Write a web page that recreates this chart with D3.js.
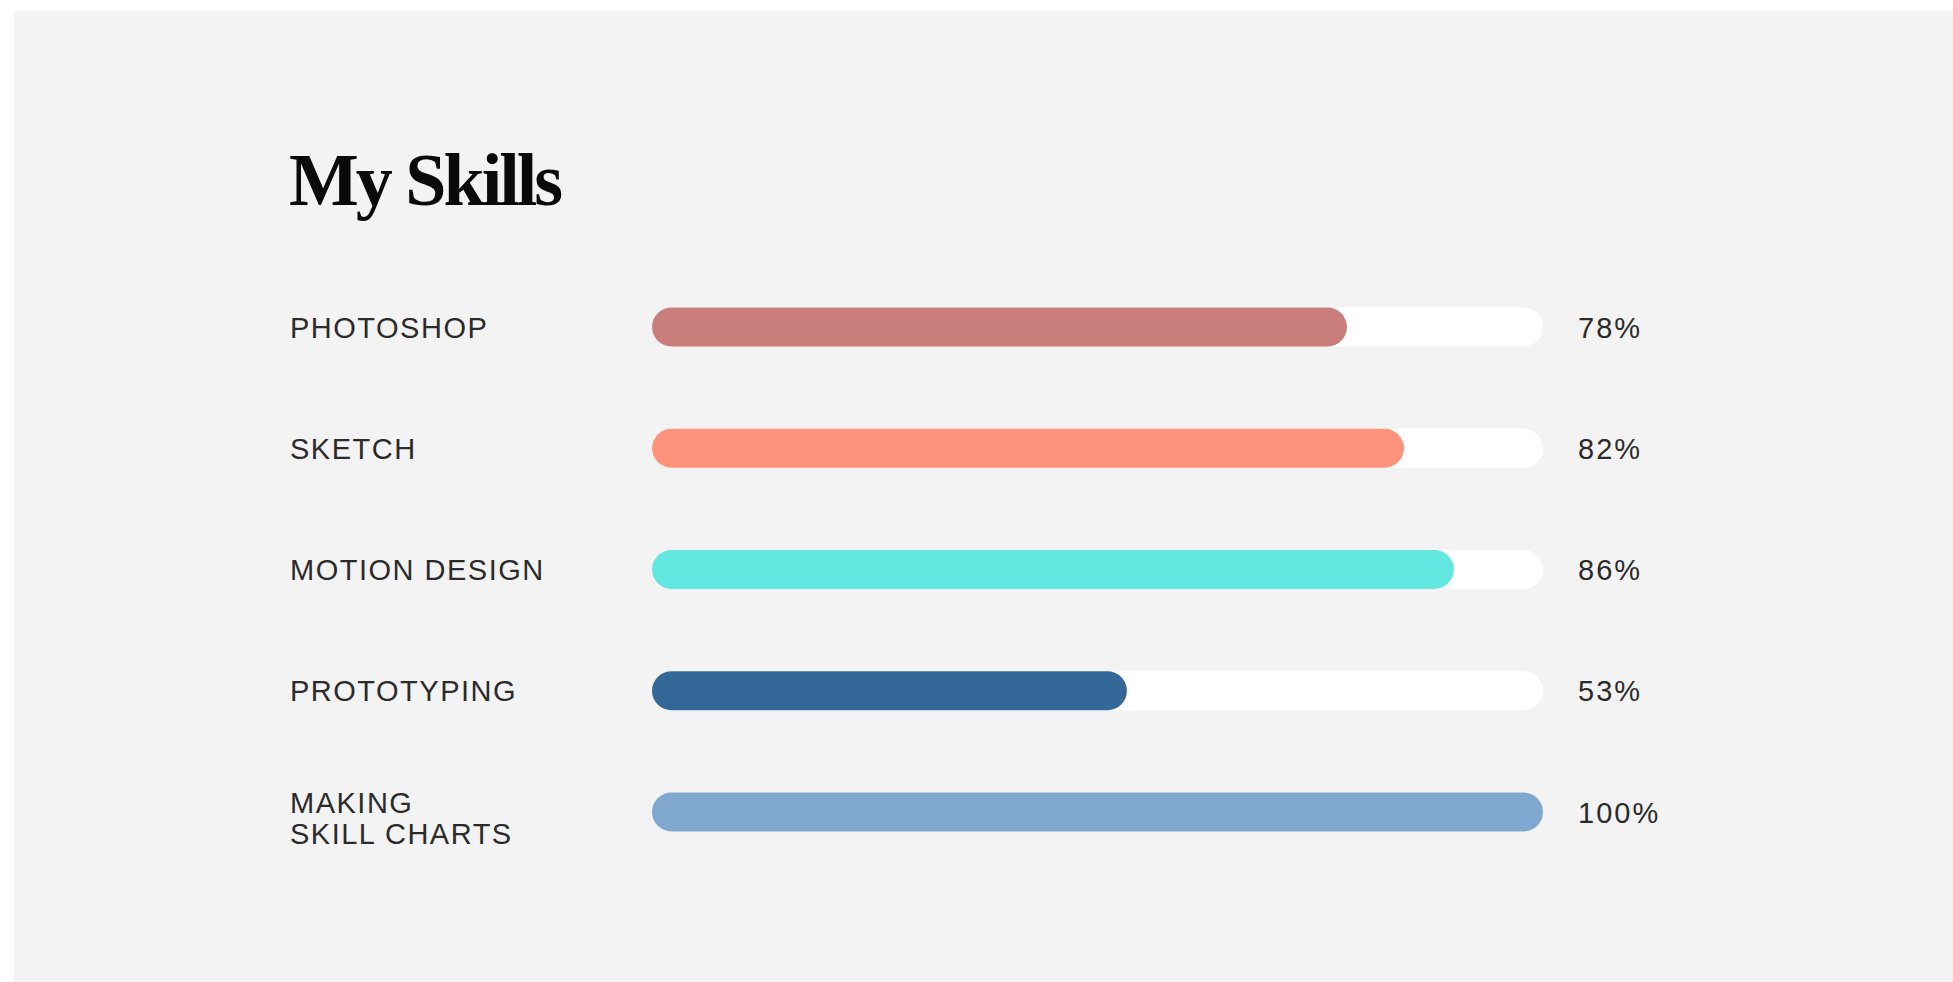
<!DOCTYPE html>
<html>
<head>
<meta charset="utf-8">
<script src="https://cdn.jsdelivr.net/npm/d3@7/dist/d3.min.js"></script>
<style>
  html, body { margin: 0; padding: 0; background: #ffffff; }
  svg { display: block; }
</style>
</head>
<body>
<script>
// ---- data ----
const title = "My Skills";
const skills = ["PHOTOSHOP", "SKETCH", "MOTION DESIGN", "PROTOTYPING", "MAKING\nSKILL CHARTS"];
// bar lengths as drawn in the picture (percent of track)
const barValues = [78, 84.4, 90, 53.3, 100];
// percentage labels as printed
const percentLabels = ["78%", "82%", "86%", "53%", "100%"];
const barColors = ["#C97E7B", "#FF927B", "#62E8E0", "#346898", "#7FA7CF"];

// ---- layout ----
const W = 1953, H = 982;
const svg = d3.select("body").append("svg").attr("width", W).attr("height", H);

svg.append("rect").attr("x", 14).attr("y", 11).attr("width", W - 14).attr("height", H - 11)
  .attr("fill", "#F3F3F3");

svg.append("text")
  .attr("x", 289).attr("y", 205)
  .attr("font-family", "'Liberation Serif', 'DejaVu Serif', serif")
  .attr("font-weight", 700)
  .attr("font-size", 74)
  .attr("letter-spacing", "-3px")
  .attr("fill", "#0a0a0a")
  .text(title);

const x = d3.scaleLinear().domain([0, 100]).range([652, 1543]);
const y = d3.scalePoint().domain(skills).range([327, 812]);
const barH = 39;

const rows = svg.append("g").selectAll("g").data(skills).join("g")
  .attr("transform", d => `translate(0,${y(d)})`);

// track
rows.append("rect")
  .attr("x", x(0)).attr("y", -barH / 2)
  .attr("width", x(100) - x(0)).attr("height", barH)
  .attr("rx", barH / 2).attr("fill", "#FFFFFF");

// fill
rows.append("rect")
  .attr("x", x(0)).attr("y", -barH / 2)
  .attr("width", (d, i) => x(barValues[i]) - x(0)).attr("height", barH)
  .attr("rx", barH / 2).attr("fill", (d, i) => barColors[i]);

// skill labels
rows.append("text")
  .attr("x", 290)
  .attr("font-family", "'Liberation Sans', Arial, sans-serif")
  .attr("font-size", 29)
  .attr("letter-spacing", "1.5px")
  .attr("fill", "#2b2b2b")
  .each(function (d) {
    const lines = d.split("\n");
    const t = d3.select(this);
    const base = lines.length > 1 ? 1 : 10.5;
    lines.forEach((ln, k) => {
      t.append("tspan").attr("x", 290).attr("y", base + k * 31).text(ln);
    });
  });

// percent labels
rows.append("text")
  .attr("x", 1578).attr("y", 10.5)
  .attr("font-family", "'Liberation Sans', Arial, sans-serif")
  .attr("font-size", 29)
  .attr("letter-spacing", "2px")
  .attr("fill", "#2b2b2b")
  .text((d, i) => percentLabels[i]);
</script>
</body>
</html>
